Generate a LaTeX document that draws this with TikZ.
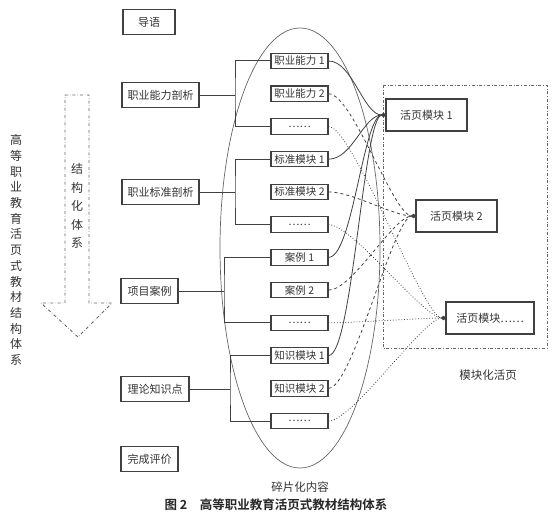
\documentclass[tikz,border=0pt]{standalone}
\usepackage{fontspec}
\setmainfont{Noto Sans CJK SC}[BoldFont={Noto Sans CJK SC Bold}]
\usetikzlibrary{arrows.meta, positioning}
\tikzset{
  lbox/.style={draw=black!75, line width=1.1pt, minimum height=25pt, inner xsep=4pt,
    text=black!80, font=\fontsize{11}{13}\selectfont},
  sbox/.style={draw=black!75, line width=1.1pt, minimum width=57pt, minimum height=15.5pt,
    inner sep=0pt, text=black!80, font=\fontsize{10.5}{12}\selectfont},
  mbox/.style={draw=black!75, line width=1.1pt, minimum width=81pt, minimum height=32pt,
    text=black!80, font=\fontsize{11}{13}\selectfont},
  tie/.style={draw=black!75, line width=1pt},
  lnk/.style={-{Circle[length=4pt]}, black!75, line width=0.8pt},
  frame/.style={black!60, dash dot, line width=0.9pt},
}

\begin{document}
\begin{tikzpicture}[x=1pt, y=-1pt,
    lbl/.style={text=black!80, font=\fontsize{11.5}{13}\selectfont}]
  \useasboundingbox (0,0) rectangle (554,519);
  % fragment area and module frame
  \draw[black!60, line width=0.7pt] (300,248) ellipse [x radius=80, y radius=220];
  \node[lbl] (fraglbl) at (300,487) {碎片化内容};
  \draw[frame] (383,85) rectangle (547,348);
  \node[lbl] (modlbl) at (488,375) {模块化活页};
  % structure arrow
  \draw[frame] (65,95) -- (89,95) -- (89,303) -- (112,303) -- (78,337) -- (41,303)
    -- (65,303) -- cycle;
  \node[lbl, align=center, font=\fontsize{12}{18.5}\selectfont] (flowlbl) at (77,206)
    {结\\构\\化\\体\\系};
  \node[lbl, align=center, font=\fontsize{12}{15.7}\selectfont] (title) at (16,250)
    {高\\等\\职\\业\\教\\育\\活\\页\\式\\教\\材\\结\\构\\体\\系};
  % left column
  \node[lbox, minimum width=52pt] (intro) at (149,22) {导语};
  \node[lbox, minimum width=77pt] (ability) at (160.5,95) {职业能力剖析};
  \node[lbox, minimum width=77pt] (standard) at (160.5,192) {职业标准剖析};
  \node[lbox, minimum width=57pt] (project) at (149.5,291) {项目案例};
  \node[lbox, minimum width=68pt] (theory) at (155,389) {理论知识点};
  \node[lbox, minimum width=57pt] (evaluate) at (149.5,459) {完成评价};
  % fragments
  \foreach \nm/\txt [count=\i from 0] in {a1/职业能力 1, a2/职业能力 2, a3/……,
      s1/标准模块 1, s2/标准模块 2, s3/……, c1/案例 1, c2/案例 2, c3/……,
      k1/知识模块 1, k2/知识模块 2, k3/……}
    \node[sbox] (\nm) at (299.5,61+32.73*\i) {\txt};
  \foreach \hd/\up/\dn/\tx in {ability/a1/a3/235, standard/s1/s3/235,
      project/c1/c3/224, theory/k1/k3/230} {
    \coordinate (t-\hd) at (\tx,0);
    \draw[tie] (\hd.east) -- (\hd.east -| t-\hd);
    \draw[tie] (\up.west) -| (\hd.east -| t-\hd) |- (\dn.west);
  }
  % modules
  \node[mbox] (m1) at (426.5,115) {活页模块 1};
  \node[mbox] (m2) at (456.5,216) {活页模块 2};
  \node[mbox, minimum width=88pt] (m3) at (490,318) {活页模块……};
  \foreach \src in {a1,s1,c1,k1}
    \draw[lnk] (\src.east) .. controls +(24,0) and +(-22,0) .. (m1.west);
  \foreach \src in {a2,s2,c2,k2}
    \draw[lnk, dashed] (\src.east) .. controls +(24,0) and +(-22,0) .. (m2.west);
  \foreach \src in {a3,s3,c3,k3}
    \draw[lnk, dotted] (\src.east) .. controls +(24,0) and +(-22,0) .. (m3.west);
  % caption
  \node[font=\bfseries\fontsize{12.5}{14}\selectfont, text=black!85] (caption) at (276,505)
    {图 2\quad 高等职业教育活页式教材结构体系};
\end{tikzpicture}
\end{document}
